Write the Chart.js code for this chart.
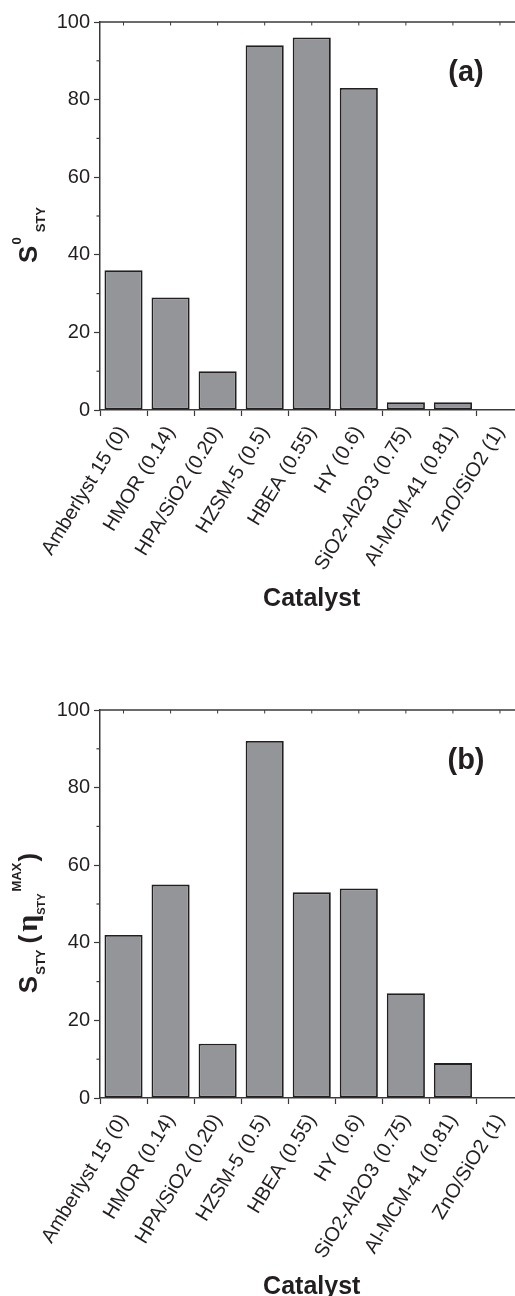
<!DOCTYPE html>
<html>
<head>
<meta charset="utf-8">
<script src="https://cdn.jsdelivr.net/npm/chart.js@4"></script>
<style>
html,body{margin:0;padding:0;background:#fff;overflow:hidden;width:515px;height:1296px;}
.box{position:absolute;left:0;width:530px;height:616px;}
#boxA{top:0;}
#boxB{top:688px;}
</style>
</head>
<body>
<div class="box" id="boxA"><canvas id="chartA"></canvas></div>
<div class="box" id="boxB"><canvas id="chartB"></canvas></div>
<script>
const categories = ['Amberlyst 15 (0)', 'HMOR (0.14)', 'HPA/SiO2 (0.20)', 'HZSM-5 (0.5)', 'HBEA (0.55)', 'HY (0.6)', 'SiO2-Al2O3 (0.75)', 'Al-MCM-41 (0.81)', 'ZnO/SiO2 (1)'];
const s0Values = [36, 29, 10, 94, 96, 83, 2, 2, 0];
const sMaxValues = [42, 55, 14, 92, 53, 54, 27, 9, 0];
const yMajorTicks = [0, 20, 40, 60, 80, 100];
const yMinorTicks = [10, 30, 50, 70, 90];
const xTitle = 'Catalyst';
const panelLabels = ['(a)', '(b)'];

const INK = '#231f20';
const AXIS = '#3a3a3a';
const FONT = '"Liberation Sans", Arial, sans-serif';

const titleA = [
  {t: 'S', f: 'bold 26px ' + FONT, dy: 0, gap: 1},
  {t: '0', f: 'bold 13px ' + FONT, dy: -16, gap: 5},
  {t: 'STY', f: 'bold 13px ' + FONT, dy: 8, gap: 0}
];
const titleB = [
  {t: 'S', f: 'bold 26px ' + FONT, dy: 0, gap: 1},
  {t: 'STY', f: 'bold 13px ' + FONT, dy: 8, gap: 6},
  {t: '(', f: 'bold 26px ' + FONT, dy: 0, gap: 3},
  {t: 'η', f: 'bold 30px "Liberation Serif", serif', dy: 0, gap: 0},
  {t: 'STY', f: 'bold 11px ' + FONT, dy: 8, gap: 2},
  {t: 'MAX', f: 'bold 13px ' + FONT, dy: -16, gap: 1},
  {t: ')', f: 'bold 26px ' + FONT, dy: 0, gap: 0}
];

function drawRich(ctx, segs, cx, cy) {
  ctx.save();
  ctx.translate(cx, cy);
  ctx.rotate(-Math.PI / 2);
  ctx.fillStyle = INK;
  ctx.textBaseline = 'alphabetic';
  ctx.textAlign = 'left';
  let total = 0;
  const w = segs.map(s => { ctx.font = s.f; const m = ctx.measureText(s.t).width; total += m + (s.gap || 0); return m; });
  let x = -total / 2;
  segs.forEach((s, i) => {
    ctx.font = s.f;
    ctx.fillText(s.t, x, s.dy);
    x += w[i] + (s.gap || 0);
  });
  ctx.restore();
}

function decorPlugin(rich, label) {
  return {
    id: 'decor',
    afterDraw(chart) {
      const ctx = chart.ctx;
      const a = chart.chartArea;
      const xs = chart.scales.x;
      const ys = chart.scales.y;
      ctx.save();
      ctx.strokeStyle = AXIS;
      ctx.lineWidth = 1.5;
      ctx.beginPath();
      ctx.moveTo(a.left, a.top);
      ctx.lineTo(a.right + 10, a.top);
      ctx.stroke();
      ctx.lineWidth = 1;
      for (let i = 0; i < categories.length; i++) {
        const px = xs.getPixelForTick(i);
        ctx.beginPath();
        ctx.moveTo(px, a.top);
        ctx.lineTo(px, a.top + 3.5);
        ctx.stroke();
      }
      ctx.lineWidth = 1.2;
      yMinorTicks.forEach(v => {
        const py = ys.getPixelForValue(v);
        ctx.beginPath();
        ctx.moveTo(a.left - 3.5, py);
        ctx.lineTo(a.left, py);
        ctx.stroke();
      });
      ctx.restore();
      drawRich(ctx, rich, 37, a.top + 213);
      ctx.save();
      ctx.fillStyle = INK;
      ctx.font = 'bold 29px ' + FONT;
      ctx.textAlign = 'center';
      ctx.textBaseline = 'middle';
      ctx.fillText(label, 466, a.top + 51);
      ctx.restore();
    }
  };
}

function makeChart(id, values, rich, label) {
  return new Chart(document.getElementById(id), {
    type: 'bar',
    data: {
      labels: categories,
      datasets: [{
        data: values,
        backgroundColor: '#939598',
        borderColor: INK,
        borderWidth: 1.8,
        borderSkipped: false,
        barPercentage: 0.81,
        categoryPercentage: 1.0
      }]
    },
    options: {
      responsive: true,
      maintainAspectRatio: false,
      animation: false,
      devicePixelRatio: 1,
      layout: {padding: {top: 22, left: 0, right: 6.5, bottom: 0}},
      plugins: {legend: {display: false}, tooltip: {enabled: false}},
      scales: {
        x: {
          offset: true,
          afterFit(s) { s.height = 206; },
          border: {display: true, color: AXIS, width: 1.5},
          grid: {display: true, drawOnChartArea: false, drawTicks: true, tickLength: 6, tickColor: AXIS, tickWidth: 1.2},
          ticks: {color: INK, font: {family: FONT, size: 20}, minRotation: 58.5, maxRotation: 58.5, autoSkip: false, padding: 6},
          title: {display: true, text: xTitle, color: INK, font: {family: FONT, size: 25, weight: 'bold'}, padding: {top: 0, bottom: 2}}
        },
        y: {
          min: 0, max: 100,
          afterFit(s) { s.width = 100; },
          afterBuildTicks(s) { s.ticks = yMajorTicks.map(v => ({value: v})); },
          border: {display: true, color: AXIS, width: 1.5},
          grid: {display: true, drawOnChartArea: false, drawTicks: true, tickLength: 6, tickColor: AXIS, tickWidth: 1.2},
          ticks: {color: INK, font: {family: FONT, size: 20}, padding: 4},
          title: {display: false}
        }
      }
    },
    plugins: [decorPlugin(rich, label)]
  });
}

makeChart('chartA', s0Values, titleA, panelLabels[0]);
makeChart('chartB', sMaxValues, titleB, panelLabels[1]);
</script>
</body>
</html>
